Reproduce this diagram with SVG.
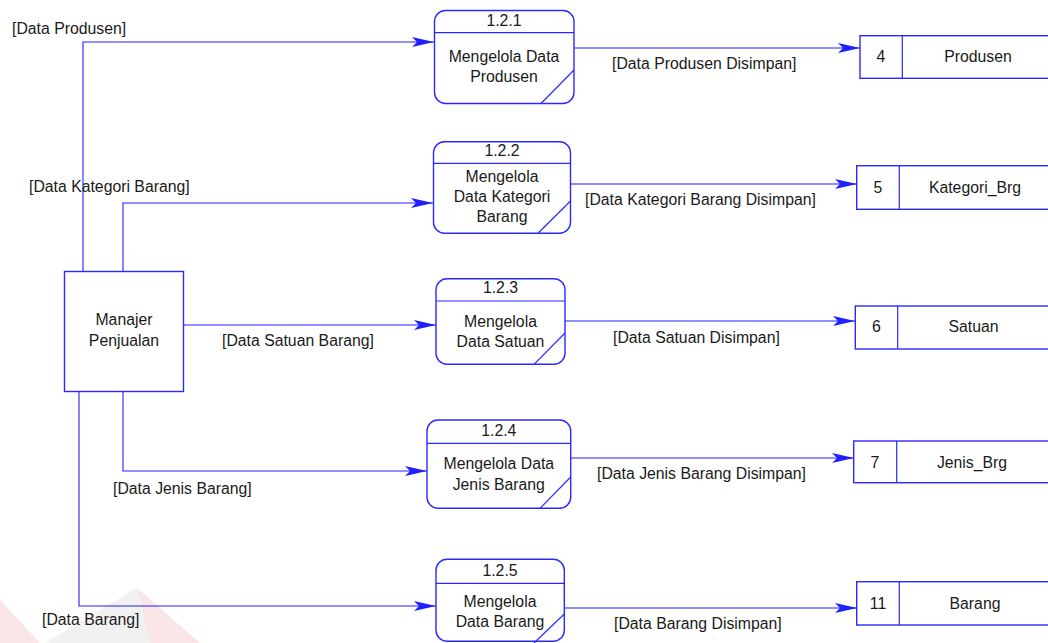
<svg xmlns="http://www.w3.org/2000/svg" width="1048" height="643" viewBox="0 0 1048 643">
<style>
text{font-family:"Liberation Sans",Arial,sans-serif;font-size:15.8px;fill:#1a1a1a}
.c{text-anchor:middle}
.box{fill:#fff;stroke:#2a2aff;stroke-width:1.4}
.ln{fill:none;stroke:#2a2aff;stroke-width:1.2}
.conn{fill:none;stroke:#1f1fff;stroke-width:1.1}
</style>
<defs>
<marker id="ah" markerUnits="userSpaceOnUse" markerWidth="24" markerHeight="12" refX="22" refY="5" orient="auto">
<path d="M0,0 L22,5 L0,10 L5,5 z" fill="#1f1fff"/>
</marker>
</defs>
<rect width="1048" height="643" fill="#fff"/>
<g id="watermark" opacity="0.35">
<polygon points="0,600 40,643 0,643" fill="#f2b8b8"/>
<polygon points="137,588 200,643 150,643" fill="#f2b8b8"/>
<polygon points="137,588 150,643 45,643" fill="#d8d8d8"/>
</g>
<g id="connectors">
<polyline class="conn" points="83,271 83,42 434,42" marker-end="url(#ah)"/>
<polyline class="conn" points="123,271 123,203 433,203" marker-end="url(#ah)"/>
<polyline class="conn" points="183,325 436,325" marker-end="url(#ah)"/>
<polyline class="conn" points="123,391 123,471 427,471" marker-end="url(#ah)"/>
<polyline class="conn" points="79,391 79,606 436,606" marker-end="url(#ah)"/>
<polyline class="conn" points="574,48 860,48" marker-end="url(#ah)"/>
<polyline class="conn" points="571,184 857,184" marker-end="url(#ah)"/>
<polyline class="conn" points="565,321 855,321" marker-end="url(#ah)"/>
<polyline class="conn" points="571,458 854,458" marker-end="url(#ah)"/>
<polyline class="conn" points="564,608 857,608" marker-end="url(#ah)"/>
<text x="12" y="34">[Data Produsen]</text>
<text x="29" y="192">[Data Kategori Barang]</text>
<text x="222" y="346">[Data Satuan Barang]</text>
<text x="113" y="494">[Data Jenis Barang]</text>
<text x="42" y="625">[Data Barang]</text>
<text x="612" y="69">[Data Produsen Disimpan]</text>
<text x="585" y="205">[Data Kategori Barang Disimpan]</text>
<text x="613" y="343">[Data Satuan Disimpan]</text>
<text x="597" y="479">[Data Jenis Barang Disimpan]</text>
<text x="614" y="629">[Data Barang Disimpan]</text>
</g>
<g id="manajer">
<rect class="box" x="64.5" y="271.5" width="119" height="120"/>
<text class="c" x="124" y="325">Manajer</text>
<text class="c" x="124" y="346">Penjualan</text>
</g>
<g id="p121">
<rect class="box" x="434.5" y="10.5" width="139.5" height="93" rx="11"/>
<line class="ln" x1="434.5" y1="32.7" x2="574" y2="32.7"/>
<line class="ln" x1="574" y1="70" x2="541" y2="103.5"/>
<text class="c" x="504" y="26">1.2.1</text>
<text class="c" x="504" y="62">Mengelola Data</text>
<text class="c" x="504" y="82">Produsen</text>
</g>
<g id="p122">
<rect class="box" x="433.5" y="141.7" width="137" height="91.6" rx="11"/>
<line class="ln" x1="433.5" y1="163.3" x2="570.5" y2="163.3"/>
<line class="ln" x1="570.5" y1="201" x2="538" y2="233.3"/>
<text class="c" x="502" y="155.5">1.2.2</text>
<text class="c" x="502" y="182">Mengelola</text>
<text class="c" x="502" y="202">Data Kategori</text>
<text class="c" x="502" y="222">Barang</text>
</g>
<g id="p123">
<rect class="box" x="436" y="278.7" width="129" height="85.6" rx="11"/>
<line class="ln" x1="436" y1="301" x2="565" y2="301"/>
<line class="ln" x1="565" y1="333" x2="534" y2="364.3"/>
<text class="c" x="500.5" y="293">1.2.3</text>
<text class="c" x="500.5" y="327">Mengelola</text>
<text class="c" x="500.5" y="347">Data Satuan</text>
</g>
<g id="p124">
<rect class="box" x="427" y="420" width="143.7" height="88.3" rx="11"/>
<line class="ln" x1="427" y1="443.3" x2="570.7" y2="443.3"/>
<line class="ln" x1="570.7" y1="477" x2="540" y2="508.3"/>
<text class="c" x="498.8" y="436">1.2.4</text>
<text class="c" x="498.8" y="468.5">Mengelola Data</text>
<text class="c" x="498.8" y="490">Jenis Barang</text>
</g>
<g id="p125">
<rect class="box" x="436" y="559.3" width="128.3" height="82" rx="11"/>
<line class="ln" x1="436" y1="583.3" x2="564.3" y2="583.3"/>
<line class="ln" x1="564.3" y1="614" x2="534" y2="643"/>
<text class="c" x="500" y="575.5">1.2.5</text>
<text class="c" x="500" y="607">Mengelola</text>
<text class="c" x="500" y="627">Data Barang</text>
</g>
<g id="ds4">
<rect class="box" x="860" y="35.7" width="200" height="42.6"/>
<line class="ln" x1="902.3" y1="35.7" x2="902.3" y2="78.3"/>
<text class="c" x="881" y="62">4</text>
<text class="c" x="978" y="62">Produsen</text>
</g>
<g id="ds5">
<rect class="box" x="856.7" y="165.7" width="200" height="43.6"/>
<line class="ln" x1="899.3" y1="165.7" x2="899.3" y2="209.3"/>
<text class="c" x="878" y="193">5</text>
<text class="c" x="975" y="193">Kategori_Brg</text>
</g>
<g id="ds6">
<rect class="box" x="855.3" y="306" width="200" height="43"/>
<line class="ln" x1="897.7" y1="306" x2="897.7" y2="349"/>
<text class="c" x="876.5" y="332">6</text>
<text class="c" x="973.5" y="332">Satuan</text>
</g>
<g id="ds7">
<rect class="box" x="853.7" y="441" width="200" height="41.7"/>
<line class="ln" x1="896.7" y1="441" x2="896.7" y2="482.7"/>
<text class="c" x="875" y="468">7</text>
<text class="c" x="972" y="468">Jenis_Brg</text>
</g>
<g id="ds11">
<rect class="box" x="856.7" y="581.7" width="200" height="43.3"/>
<line class="ln" x1="899.3" y1="581.7" x2="899.3" y2="625"/>
<text class="c" x="878" y="609">11</text>
<text class="c" x="975" y="609">Barang</text>
</g>
</svg>
